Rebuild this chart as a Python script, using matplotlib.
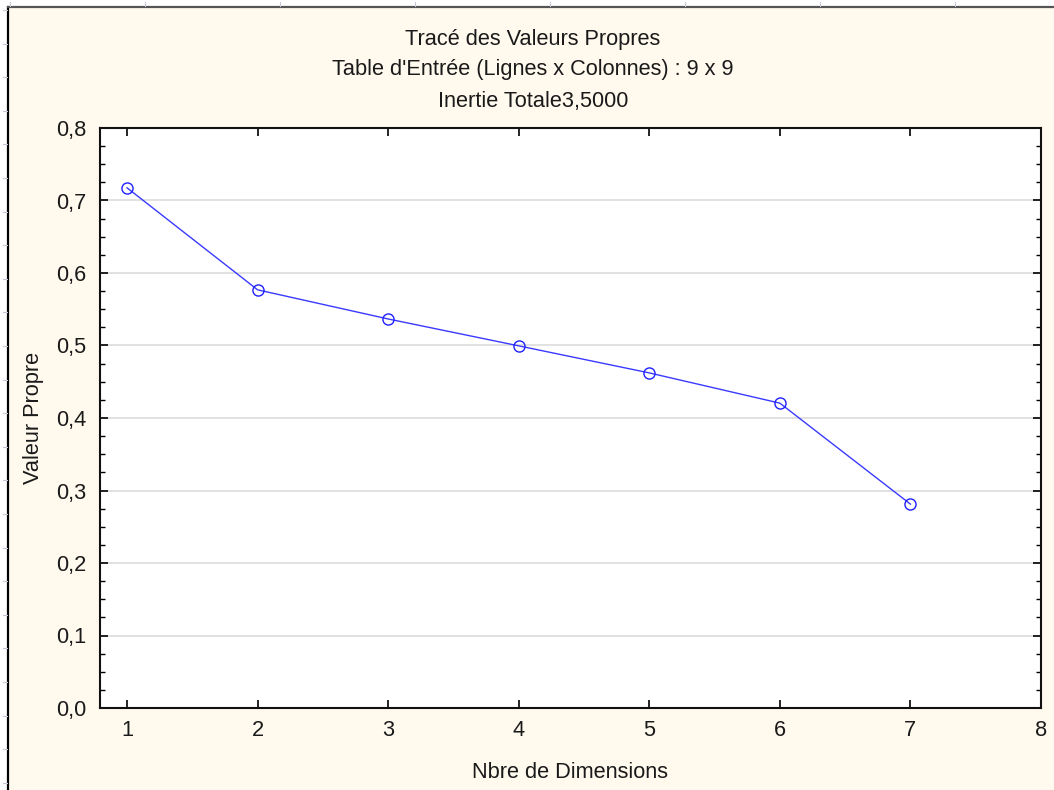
import numpy as np
import matplotlib
matplotlib.use("Agg")
import matplotlib.pyplot as plt
from matplotlib.ticker import MultipleLocator, FuncFormatter
from matplotlib.lines import Line2D
from matplotlib.patches import Rectangle

# ---- data ----
dimensions = [1, 2, 3, 4, 5, 6, 7]
eigenvalues = [0.7175, 0.5768, 0.5366, 0.4995, 0.4622, 0.4205, 0.2812]
title_lines = ["Tracé des Valeurs Propres",
               "Table d'Entrée (Lignes x Colonnes) : 9 x 9",
               "Inertie Totale3,5000"]
x_label = "Nbre de Dimensions"
y_label = "Valeur Propre"

W, H = 1054, 790
FS = 15.7
plt.rcParams['font.family'] = ['Liberation Sans', 'DejaVu Sans']
fig = plt.figure(figsize=(W / 100, H / 100), dpi=100)
fig.patch.set_facecolor('white')

cream = '#FFF9EE'
# cream panel with frame
fig.patches.append(Rectangle((8 / W, 0), 1 - 8 / W, 1 - 7 / H, transform=fig.transFigure,
                             facecolor=cream, edgecolor='none', zorder=-10))
fig.lines.append(Line2D([8 / W, 8 / W], [0, 1 - 7 / H], transform=fig.transFigure,
                        color='black', lw=1.6, zorder=-5))
fig.lines.append(Line2D([8 / W, 1], [1 - 7 / H, 1 - 7 / H], transform=fig.transFigure,
                        color='#555555', lw=1.6, zorder=-5))
# ruler marks
for yy in np.arange(10, H, 33.6):
    fig.lines.append(Line2D([3 / W, 7 / W], [1 - yy / H, 1 - yy / H], transform=fig.transFigure,
                            color='#C8C8D8', lw=0.8, zorder=-5))
for xx in np.arange(10, W, 135):
    fig.lines.append(Line2D([xx / W, xx / W], [1 - 2 / H, 1 - 6 / H], transform=fig.transFigure,
                            color='#C8C8D8', lw=0.8, zorder=-5))

L, R, T, B = 100, 1041, 128, 708
ax = fig.add_axes([L / W, 1 - B / H, (R - L) / W, (B - T) / H], zorder=5)
ax.set_facecolor('white')

ax.plot(dimensions, eigenvalues, color='#3A3AFF', lw=1.0, marker='o', ms=8,
        mfc='none', mec='#2020FF', mew=1.0, zorder=3)

ax.set_xlim(0.793, 8)
ax.set_ylim(0, 0.8)
ax.xaxis.set_major_locator(MultipleLocator(1))
ax.yaxis.set_major_locator(MultipleLocator(0.1))
ax.yaxis.set_minor_locator(MultipleLocator(0.025))
ax.yaxis.set_major_formatter(FuncFormatter(lambda v, p: f"{v:.1f}".replace('.', ',')))
ax.xaxis.set_major_formatter(FuncFormatter(lambda v, p: f"{int(round(v))}"))

ax.grid(axis='y', which='major', color='#DCDCDC', lw=1.2)
ax.set_axisbelow(True)

ax.tick_params(axis='both', which='major', direction='in', length=6, width=1.2,
               labelsize=FS, colors='black', labelcolor='#1a1a1a')
ax.tick_params(axis='y', which='minor', direction='in', length=3.5, width=1.0, right=True)
ax.tick_params(axis='y', which='major', right=True, pad=10)
ax.tick_params(axis='x', which='major', top=True, pad=9)
for s in ax.spines.values():
    s.set_linewidth(1.5)
    s.set_color('#111111')

fig.text(570 / W, 1 - 773 / H, x_label, ha='center', va='center', fontsize=FS, color='#1a1a1a')
fig.text(33 / W, 1 - 418 / H, y_label, ha='center', va='center', rotation=90, fontsize=FS, color='#1a1a1a')

for txt, yy in zip(title_lines, [40, 70, 101]):
    fig.text(533 / W, 1 - yy / H, txt, ha='center', va='center', fontsize=FS, color='#1a1a1a')

fig.savefig('out.png', dpi=100, facecolor=fig.get_facecolor())
